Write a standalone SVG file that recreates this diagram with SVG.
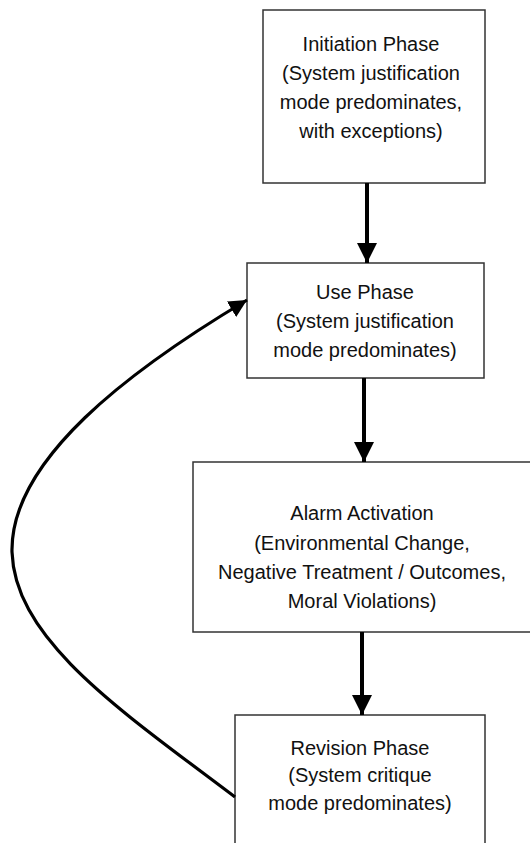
<svg xmlns="http://www.w3.org/2000/svg" width="530" height="843" viewBox="0 0 530 843">
  <defs>
    <style>
      .box { fill: #ffffff; stroke: #333333; stroke-width: 1.5; }
      .lbl { font-family: "Liberation Sans", Arial, sans-serif; font-size: 20px; fill: #111111; text-anchor: middle; }
      .conn { fill: none; stroke: #000000; stroke-linecap: butt; }
    </style>
    <marker id="headDown" markerUnits="userSpaceOnUse" markerWidth="20" markerHeight="20" viewBox="0 0 20 20" refX="20" refY="10" orient="auto">
      <path d="M0,0 L20,10 L0,20 z" fill="#000000"/>
    </marker>
    <marker id="headCurve" markerUnits="userSpaceOnUse" markerWidth="18" markerHeight="18" viewBox="0 0 18 18" refX="18" refY="9" orient="auto">
      <path d="M0,0 L18,9 L0,18 z" fill="#000000"/>
    </marker>
  </defs>
  <rect width="530" height="843" fill="#ffffff"/>

  <g id="node-initiation">
    <rect class="box" x="263" y="10" width="222" height="173"/>
    <text class="lbl" x="371" y="51">Initiation Phase</text>
    <text class="lbl" x="371" y="80">(System justification</text>
    <text class="lbl" x="371" y="109">mode predominates,</text>
    <text class="lbl" x="371" y="138">with exceptions)</text>
  </g>

  <g id="node-use">
    <rect class="box" x="247" y="263" width="237" height="115"/>
    <text class="lbl" x="365" y="299">Use Phase</text>
    <text class="lbl" x="365" y="328">(System justification</text>
    <text class="lbl" x="365" y="357">mode predominates)</text>
  </g>

  <g id="node-alarm">
    <rect class="box" x="193" y="462" width="340" height="170"/>
    <text class="lbl" x="362" y="520">Alarm Activation</text>
    <text class="lbl" x="362" y="550">(Environmental Change,</text>
    <text class="lbl" x="362" y="579">Negative Treatment / Outcomes,</text>
    <text class="lbl" x="362" y="608">Moral Violations)</text>
  </g>

  <g id="node-revision">
    <rect class="box" x="235" y="715" width="250" height="140"/>
    <text class="lbl" x="360" y="755">Revision Phase</text>
    <text class="lbl" x="360" y="782">(System critique</text>
    <text class="lbl" x="360" y="810">mode predominates)</text>
  </g>

  <g id="connectors">
    <line class="conn" x1="367" y1="183" x2="367" y2="263" stroke-width="4" marker-end="url(#headDown)"/>
    <line class="conn" x1="364" y1="378" x2="364" y2="462" stroke-width="4" marker-end="url(#headDown)"/>
    <line class="conn" x1="362" y1="632" x2="362" y2="715" stroke-width="4" marker-end="url(#headDown)"/>
    <path class="conn" d="M235,797 C120,710 15,640 12,552 C10,460 130,370 247,300" stroke-width="3.2" marker-end="url(#headCurve)"/>
  </g>
</svg>
